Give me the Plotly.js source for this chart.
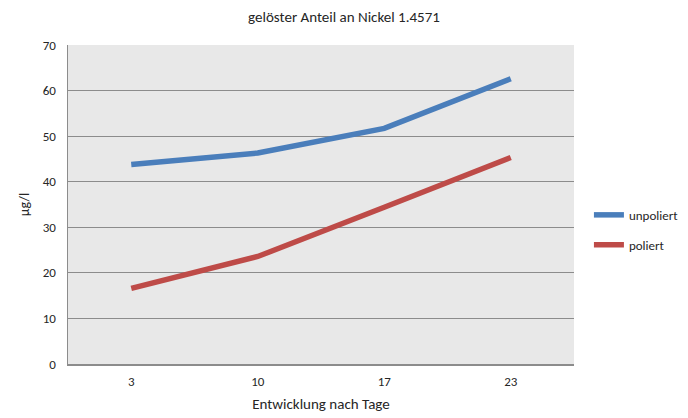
<!DOCTYPE html>
<html>
<head>
<meta charset="utf-8">
<script src="https://cdn.plot.ly/plotly-3.0.1.min.js"></script>
<style>
  html, body { margin: 0; padding: 0; background: #fff; }
  #chart { width: 688px; height: 418px; }
</style>
</head>
<body>
<div id="chart"></div>
<script>
// Days after start (category labels)
const days = ['3', '10', '17', '23'];
// Dissolved nickel in µg/l
const unpoliert = [43.8, 46.3, 51.7, 62.6];
const poliert = [16.6, 23.6, 34.4, 45.3];
const yTicks = [0, 10, 20, 30, 40, 50, 60, 70];

const font = "Carlito, Calibri, 'Liberation Sans', Arial, sans-serif";
const ink = '#262626';

const traces = [
  {
    x: days, y: unpoliert, name: 'unpoliert', type: 'scatter', mode: 'lines',
    legendgroup: 'a',
    line: { color: '#4a7ebb', width: 5.5 }
  },
  {
    x: days, y: poliert, name: 'poliert', type: 'scatter', mode: 'lines',
    legendgroup: 'b',
    line: { color: '#be4b48', width: 5.5 }
  }
];

const layout = {
  width: 688, height: 418,
  margin: { l: 68, r: 114, t: 45, b: 54, autoexpand: false },
  paper_bgcolor: '#ffffff',
  plot_bgcolor: '#e8e8e8',
  font: { family: font, size: 13, color: ink },
  title: {
    text: 'gelöster Anteil an Nickel 1.4571',
    font: { family: font, size: 15, color: ink },
    x: 0.5, xanchor: 'center', y: 0.96, yanchor: 'middle'
  },
  xaxis: {
    type: 'category',
    range: [-0.5, 3.5],
    tickvals: days, ticktext: days,
    showgrid: false, zeroline: false,
    showline: true, linecolor: '#8c8c8c', linewidth: 1.5,
    ticks: 'outside', ticklen: 5, tickcolor: 'rgba(0,0,0,0)',
    tickfont: { family: font, size: 13, color: ink },
    title: { text: 'Entwicklung nach Tage', font: { family: font, size: 15, color: ink }, standoff: 10 }
  },
  yaxis: {
    range: [0, 70],
    tickvals: yTicks,
    showgrid: true, gridcolor: '#8c8c8c', gridwidth: 1.2,
    zeroline: false,
    showline: true, linecolor: '#8c8c8c', linewidth: 1.5,
    ticks: 'outside', ticklen: 8, tickcolor: 'rgba(0,0,0,0)',
    tickfont: { family: font, size: 13, color: ink },
    title: { text: 'µg/l', font: { family: font, size: 14, color: ink }, standoff: 10 }
  },
  showlegend: true,
  legend: {
    xref: 'container', yref: 'container',
    x: 0.856, xanchor: 'left', y: 0.45, yanchor: 'middle',
    font: { family: font, size: 13, color: ink },
    traceorder: 'grouped',
    itemwidth: 30, tracegroupgap: 10, bgcolor: 'rgba(0,0,0,0)'
  }
};

Plotly.newPlot('chart', traces, layout, { displayModeBar: false, staticPlot: true });
</script>
</body>
</html>
